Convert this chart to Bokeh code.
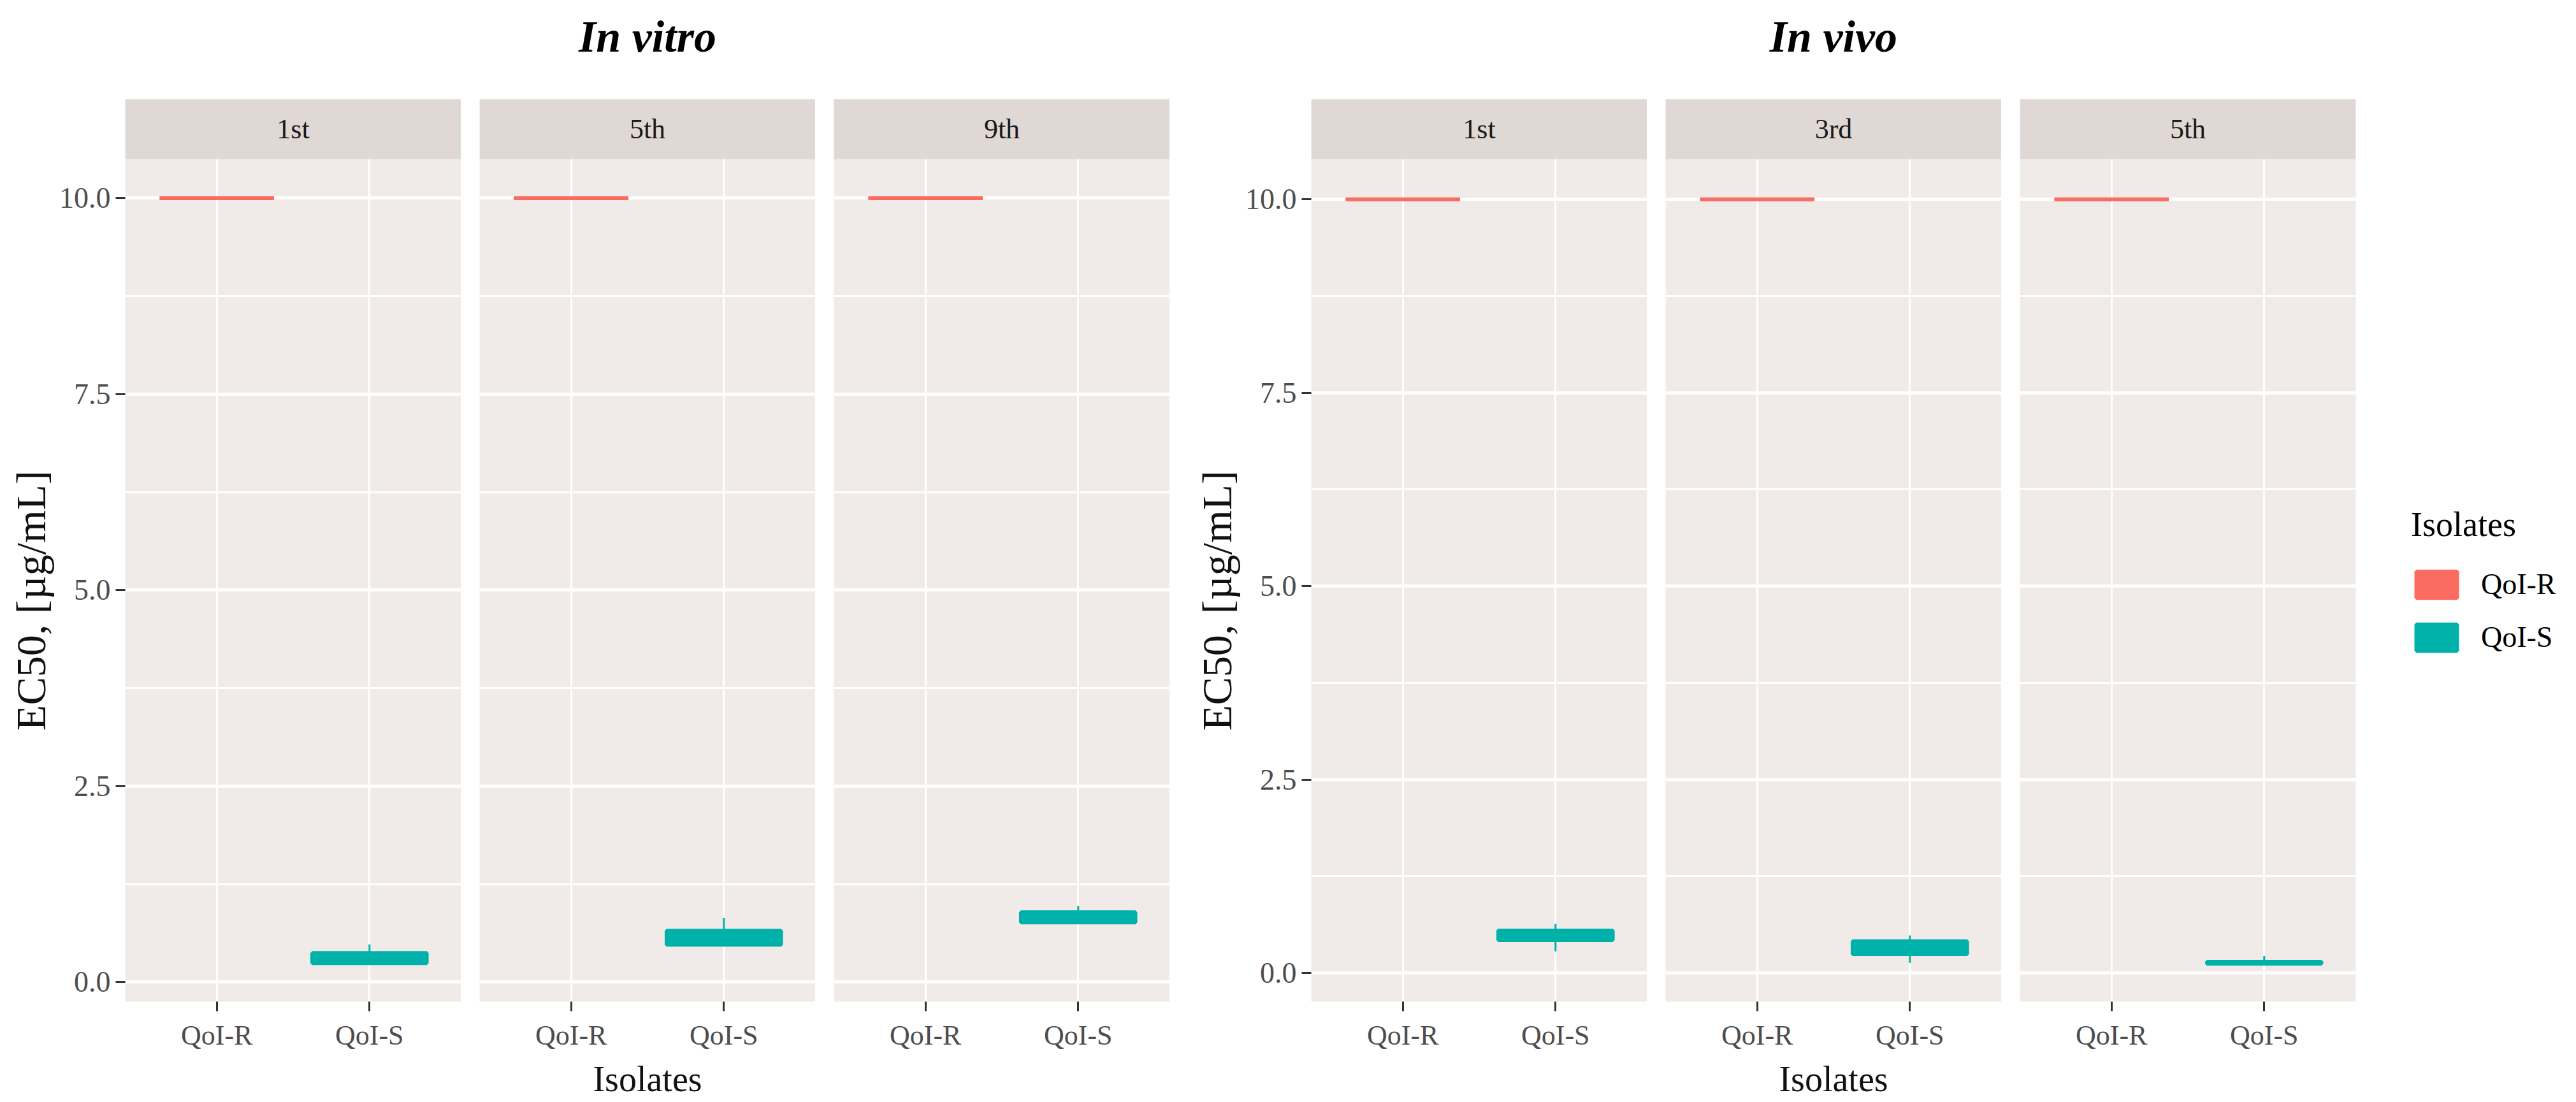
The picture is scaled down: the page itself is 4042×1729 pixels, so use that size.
from bokeh.plotting import figure
from bokeh.models import (FactorRange, Range1d, FixedTicker, BoxAnnotation, Label,
                          Legend, LegendItem, ColumnDataSource, PrintfTickFormatter,
                          CategoricalAxis, Title)
from bokeh.layouts import row
from bokeh.embed import file_html
from bokeh.resources import INLINE

# ---------------- data ----------------
isolates = ["QoI-R", "QoI-S"]
vitro_panels = ["1st", "5th", "9th"]
vivo_panels = ["1st", "3rd", "5th"]
y_ticks = [0, 2.5, 5, 7.5, 10]
y_minor = [1.25, 3.75, 6.25, 8.75]

# QoI-R (all isolates at the 10 ug/mL cap)
vitro_r_lo = [10.0, 10.0, 10.0]
vitro_r_q1 = [10.0, 10.0, 10.0]
vitro_r_med = [10.0, 10.0, 10.0]
vitro_r_q3 = [10.0, 10.0, 10.0]
vitro_r_hi = [10.0, 10.0, 10.0]
# QoI-S in vitro
vitro_s_lo = [0.24, 0.475, 0.76]
vitro_s_q1 = [0.24, 0.475, 0.76]
vitro_s_med = [0.30, 0.56, 0.82]
vitro_s_q3 = [0.37, 0.655, 0.89]
vitro_s_hi = [0.48, 0.82, 0.97]

vivo_r_lo = [10.0, 10.0, 10.0]
vivo_r_q1 = [10.0, 10.0, 10.0]
vivo_r_med = [10.0, 10.0, 10.0]
vivo_r_q3 = [10.0, 10.0, 10.0]
vivo_r_hi = [10.0, 10.0, 10.0]
# QoI-S in vivo
vivo_s_lo = [0.28, 0.13, 0.12]
vivo_s_q1 = [0.424, 0.243, 0.12]
vivo_s_med = [0.48, 0.33, 0.13]
vivo_s_q3 = [0.548, 0.41, 0.144]
vivo_s_hi = [0.634, 0.486, 0.22]

# ---------------- style / layout ----------------
RED = "#FA6C60"
TEAL = "#00B1AA"
PANEL_BG = "#F0EBE9"
STRIP_BG = "#E0D8D4"
FONT = "Liberation Serif"
FW = 527          # panel width (px)
PANEL_PX = 1322   # panel height (px)
STRIP_PX = 94     # strip height (px)
FH = PANEL_PX + STRIP_PX
TOP = 155
BOTTOM = 158
GAP = 29

VITRO_Y = (-0.25, 10.50)
VIVO_Y = (-0.37, 10.52)


def make_panel(name, i, group, yr, left_border, right_border, show_y,
               title=None, xlabel=None):
    if group == "vitro":
        r = (vitro_r_lo, vitro_r_q1, vitro_r_med, vitro_r_q3, vitro_r_hi)
        s = (vitro_s_lo, vitro_s_q1, vitro_s_med, vitro_s_q3, vitro_s_hi)
    else:
        r = (vivo_r_lo, vivo_r_q1, vivo_r_med, vivo_r_q3, vivo_r_hi)
        s = (vivo_s_lo, vivo_s_q1, vivo_s_med, vivo_s_q3, vivo_s_hi)
    src = ColumnDataSource(dict(
        iso=isolates,
        lo=[r[0][i], s[0][i]], q1=[r[1][i], s[1][i]], med=[r[2][i], s[2][i]],
        q3=[r[3][i], s[3][i]], hi=[r[4][i], s[4][i]], color=[RED, TEAL]))

    ybot, ytop = yr
    yend = ytop + (ytop - ybot) * STRIP_PX / PANEL_PX
    p = figure(x_range=FactorRange(factors=isolates, range_padding=0.1),
               y_range=Range1d(ybot, yend),
               frame_width=FW, frame_height=FH,
               min_border_left=left_border, min_border_right=right_border,
               min_border_top=TOP, min_border_bottom=BOTTOM,
               output_backend="svg", toolbar_location=None,
               y_axis_location="left" if show_y else None,
               background_fill_color=PANEL_BG, border_fill_color="white",
               outline_line_color=None)

    # grid
    p.xgrid.grid_line_color = "white"
    p.xgrid.grid_line_width = 3
    p.ygrid.ticker = FixedTicker(ticks=y_ticks, minor_ticks=y_minor)
    p.ygrid.grid_line_color = "white"
    p.ygrid.grid_line_width = 5
    p.ygrid.minor_grid_line_color = "white"
    p.ygrid.minor_grid_line_width = 3

    # boxplots
    p.segment(x0="iso", y0="lo", x1="iso", y1="hi", source=src,
              line_color="color", line_width=3)
    box = p.vbar(x="iso", width=0.75, bottom="q1", top="q3", source=src,
                 fill_color="color", line_color="color", line_width=6)
    p.vbar(x="iso", width=0.75, bottom="med", top="med", source=src,
           fill_color="color", line_color="color", line_width=2)

    # strip
    p.add_layout(BoxAnnotation(bottom=ytop, fill_color=STRIP_BG, fill_alpha=1.0,
                               line_color=None))
    p.add_layout(Label(x=FW / 2, x_units="screen",
                       y=ytop + (yend - ytop) / 2, y_units="data",
                       text=name, text_align="center", text_baseline="middle",
                       text_font=FONT, text_font_size="44px",
                       text_color="#1A1A1A"))

    # x axis
    xa = p.xaxis[0]
    xa.axis_line_color = None
    xa.major_tick_out = 15
    xa.major_tick_in = 0
    xa.major_tick_line_color = "#333333"
    xa.major_tick_line_width = 3
    xa.major_label_text_font = FONT
    xa.major_label_text_font_size = "44px"
    xa.major_label_text_color = "#4D4D4D"
    xa.major_label_standoff = 13
    if xlabel:
        xa.axis_label = xlabel
        xa.axis_label_text_font = FONT
        xa.axis_label_text_font_size = "56px"
        xa.axis_label_text_font_style = "normal"
        xa.axis_label_text_color = "#111111"
        xa.axis_label_standoff = 10

    if show_y:
        ya = p.yaxis[0]
        ya.ticker = FixedTicker(ticks=y_ticks)
        ya.formatter = PrintfTickFormatter(format="%.1f")
        ya.axis_line_color = None
        ya.minor_tick_line_color = None
        ya.major_tick_out = 15
        ya.major_tick_in = 0
        ya.major_tick_line_color = "#333333"
        ya.major_tick_line_width = 3
        ya.major_label_text_font = FONT
        ya.major_label_text_font_size = "46px"
        ya.major_label_text_color = "#4D4D4D"
        ya.major_label_standoff = 8
        # y-axis title (ggplot places it low on the panel column)
        p.add_layout(Title(text="EC50, [\u00b5g/mL]", align="left", offset=425,
                           standoff=9, text_font=FONT, text_font_size="66px",
                           text_font_style="normal", text_color="#111111"),
                     "left")

    if title:
        # group title carried by a bare (tickless) axis above the panel
        tax = CategoricalAxis(ticker=FixedTicker(ticks=[]),
                              axis_label=title, axis_line_color=None,
                              major_tick_line_color=None, minor_tick_line_color=None,
                              major_tick_out=0, major_tick_in=0,
                              minor_tick_out=0, minor_tick_in=0,
                              major_label_standoff=0, axis_label_standoff=60,
                              axis_label_text_font=FONT,
                              axis_label_text_font_size="70px",
                              axis_label_text_font_style="bold italic",
                              axis_label_text_color="black")
        p.add_layout(tax, "above")
    return p, box


pa, _ = make_panel(vitro_panels[0], 0, "vitro", VITRO_Y, 196, 0, True)
pb, _ = make_panel(vitro_panels[1], 1, "vitro", VITRO_Y, GAP, 0, False,
                   title="In vitro", xlabel="Isolates")
pc, _ = make_panel(vitro_panels[2], 2, "vitro", VITRO_Y, GAP, 0, False)
pd, _ = make_panel(vivo_panels[0], 0, "vivo", VIVO_Y, 222, 0, True)
pe, _ = make_panel(vivo_panels[1], 1, "vivo", VIVO_Y, GAP, 0, False,
                   title="In vivo", xlabel="Isolates")
pf, box_f = make_panel(vivo_panels[2], 2, "vivo", VIVO_Y, GAP, 340, False)

legend = Legend(
    items=[LegendItem(label=isolates[0], renderers=[box_f], index=0),
           LegendItem(label=isolates[1], renderers=[box_f], index=1)],
    title="Isolates", title_text_font=FONT, title_text_font_size="54px",
    title_text_font_style="normal", title_text_color="black", title_standoff=36,
    label_text_font=FONT, label_text_font_size="46px", label_text_color="black",
    glyph_width=80, glyph_height=52, spacing=30, label_standoff=30,
    padding=0, margin=0, border_line_color=None, background_fill_color="white",
    location=(87, 545))
pf.add_layout(legend, "right")

layout = row(pa, pb, pc, pd, pe, pf, spacing=0)
open("out.html", "w").write(file_html(layout, INLINE))
